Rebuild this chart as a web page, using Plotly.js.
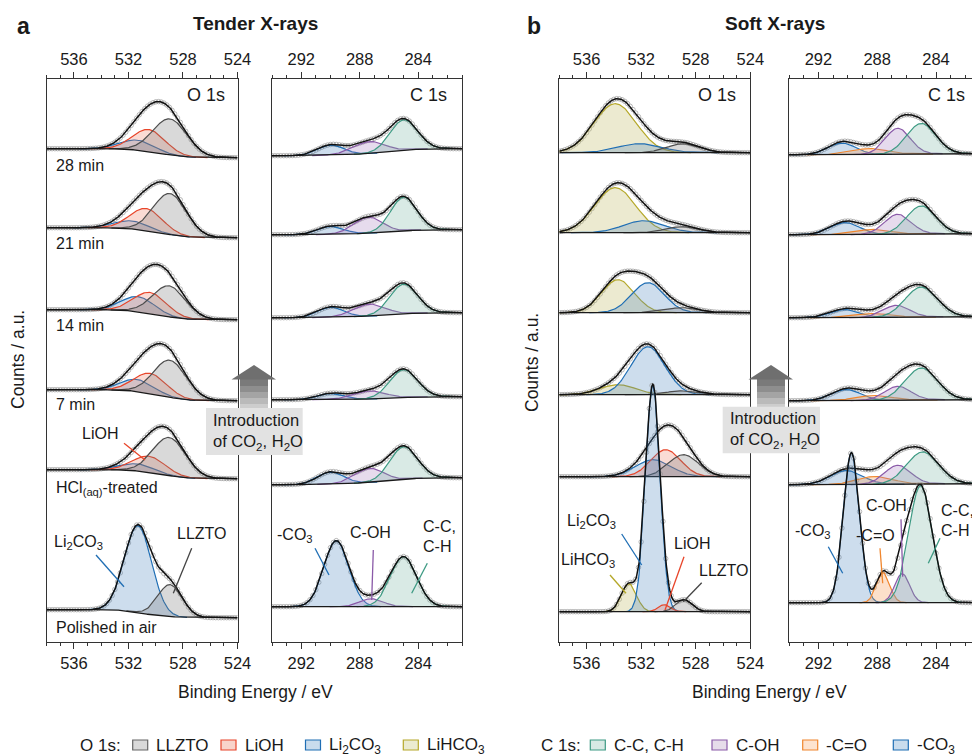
<!DOCTYPE html>
<html><head><meta charset="utf-8">
<script src="https://cdn.plot.ly/plotly-3.0.1.min.js"></script>
<style>html,body{margin:0;padding:0;overflow:hidden;background:#fff}#chart{width:990px;height:756px}</style>
</head><body><div id="chart"></div>
<script>
// ================= DATA =================
const sampleLabels = ['28 min','21 min','14 min','7 min','HCl<sub>(aq)</sub>-treated','Polished in air'];
const o1sRange = [524, 538];
const c1sRange = [281, 294];

// --- Panel a, O 1s (tender X-rays); six spectra, top to bottom ---
const aO_baseHigh = [493, 414, 332, 252, 172, 32];
const aO_baseLow  = [484, 404, 322, 241, 163, 24];
const aO_LLZTO_pos = [528.95, 528.95, 529.0, 528.95, 529.0, 528.95];
const aO_LLZTO_amp = [36, 41, 31, 37, 38, 32];
const aO_LLZTO_wid = [1.25, 1.2, 1.2, 1.2, 1.2, 0.9];
const aO_LiOH_pos  = [530.5, 530.7, 530.4, 530.4, 530.5, 530.4];
const aO_LiOH_amp  = [22, 22, 21, 20, 16, 0];
const aO_LiOH_wid  = [1.2, 1.2, 1.2, 1.2, 1.2, 1.0];
const aO_Li2CO3_pos = [531.35, 531.8, 531.3, 531.4, 531.4, 531.3];
const aO_Li2CO3_amp = [10, 8, 15, 12, 7, 87];
const aO_Li2CO3_wid = [1.2, 1.2, 1.2, 1.2, 1.2, 1.0];

// --- Panel a, C 1s ---
const aC_baseHigh = [486, 407, 324, 242, 157, 35];
const aC_baseLow  = [493, 412, 329, 245, 164, 35];
const aC_CC_pos  = [285.0, 285.0, 285.0, 285.0, 285.0, 285.0];
const aC_CC_amp  = [31, 34, 30, 28, 33, 50];
const aC_CC_wid  = [0.95, 0.9, 0.95, 0.95, 0.95, 0.9];
const aC_COH_pos = [287.3, 287.4, 287.3, 287.3, 287.3, 287.2];
const aC_COH_amp = [12, 16, 12, 8, 14, 8];
const aC_COH_wid = [1.1, 1.0, 1.1, 1.1, 1.0, 0.8];
const aC_CO3_pos = [290.0, 290.0, 290.0, 290.0, 290.0, 289.6];
const aC_CO3_amp = [10, 8, 10, 6, 12, 66];
const aC_CO3_wid = [0.9, 0.9, 0.9, 0.9, 0.9, 0.85];

// --- Panel b, O 1s (soft X-rays) ---
const bO_base = [489, 409, 329, 247, 165, 30];
const bO_LLZTO_pos = [528.9, 529.0, 529.0, 528.9, 528.9, 528.85];
const bO_LLZTO_amp = [9, 6, 5, 4, 22, 12];
const bO_LLZTO_wid = [1.2, 1.2, 1.2, 1.2, 1.1, 0.6];
const bO_LiOH_pos  = [530.2, 530.2, 530.2, 530.2, 530.2, 530.3];
const bO_LiOH_amp  = [0, 0, 0, 0, 27, 7];
const bO_LiOH_wid  = [1.1, 1.1, 1.1, 1.1, 1.1, 0.45];
const bO_Li2CO3_pos = [532.1, 531.8, 531.5, 531.5, 531.1, 531.15];
const bO_Li2CO3_amp = [9, 12, 30, 48, 17, 226];
const bO_Li2CO3_wid = [1.6, 1.5, 1.2, 1.25, 1.3, 0.53];
const bO_LiHCO3_pos = [533.9, 533.9, 533.7, 533.7, 533.7, 532.9];
const bO_LiHCO3_amp = [49, 45, 33, 10, 0, 28];
const bO_LiHCO3_wid = [1.55, 1.5, 1.2, 1.3, 1.3, 0.55];

// --- Panel b, C 1s ---
const bC_baseHigh = [487, 407, 324, 241, 157, 39];
const bC_baseLow  = [488, 408, 325, 242, 158, 39];
const bC_CC_pos  = [285.0, 285.0, 285.0, 285.0, 284.9, 285.05];
const bC_CC_amp  = [30.5, 28, 30, 32, 32, 117];
const bC_CC_wid  = [1.0, 1.0, 1.1, 1.1, 1.1, 0.8];
const bC_COH_pos = [286.6, 286.6, 286.7, 286.6, 286.6, 286.3];
const bC_COH_amp = [26, 20, 12, 14, 19, 29];
const bC_COH_wid = [0.85, 0.9, 0.9, 0.9, 0.9, 0.5];
const bC_CO_pos  = [288.5, 288.3, 288.3, 288.2, 288.15, 287.6];
const bC_CO_amp  = [6, 5, 4, 5, 8, 30];
const bC_CO_wid  = [1.2, 1.2, 1.2, 1.2, 1.2, 0.45];
const bC_CO3_pos = [290.4, 290.2, 290.2, 290.1, 290.1, 289.75];
const bC_CO3_amp = [11.5, 12, 8, 11, 14, 150];
const bC_CO3_wid = [0.95, 1.0, 1.0, 1.0, 1.1, 0.55];

// ================= STYLE =================
const FONT = 'Liberation Sans, Arial, sans-serif';
const COL = {
  LLZTO:  {line:'#4d4d4d', fill:'rgba(120,120,120,0.28)', leg:'#d9d9d9'},
  LiOH:   {line:'#e8452a', fill:'rgba(236,110,85,0.25)', leg:'#f8d3ca'},
  Li2CO3: {line:'#1f6eb4', fill:'rgba(70,130,190,0.27)', leg:'#c9dced'},
  LiHCO3: {line:'#b5a82a', fill:'rgba(195,190,110,0.32)', leg:'#ebebd0'},
  CC:     {line:'#3d9a83', fill:'rgba(120,180,160,0.28)', leg:'#d7e9e4'},
  COH:    {line:'#8a5aa8', fill:'rgba(165,125,190,0.28)', leg:'#e6dcea'},
  CO:     {line:'#f0862e', fill:'rgba(245,160,90,0.32)', leg:'#fde3cf'},
  CO3:    {line:'#1f6eb4', fill:'rgba(70,130,190,0.27)', leg:'#c9dced'}
};

const W = 990, H = 756;
const px = x => x / W, py = y => 1 - y / H;

const panels = [
  {xa:'x', ya:'y', range:o1sRange, bHigh:aO_baseHigh, bLow:aO_baseLow, comps:[
    {c:COL.Li2CO3, pos:aO_Li2CO3_pos, amp:aO_Li2CO3_amp, wid:aO_Li2CO3_wid},
    {c:COL.LiOH, pos:aO_LiOH_pos, amp:aO_LiOH_amp, wid:aO_LiOH_wid},
    {c:COL.LLZTO, pos:aO_LLZTO_pos, amp:aO_LLZTO_amp, wid:aO_LLZTO_wid}]},
  {xa:'x2', ya:'y2', range:c1sRange, bHigh:aC_baseHigh, bLow:aC_baseLow, comps:[
    {c:COL.CO3, pos:aC_CO3_pos, amp:aC_CO3_amp, wid:aC_CO3_wid},
    {c:COL.COH, pos:aC_COH_pos, amp:aC_COH_amp, wid:aC_COH_wid},
    {c:COL.CC, pos:aC_CC_pos, amp:aC_CC_amp, wid:aC_CC_wid}]},
  {xa:'x3', ya:'y3', range:o1sRange, bHigh:bO_base, bLow:bO_base, comps:[
    {c:COL.LiHCO3, pos:bO_LiHCO3_pos, amp:bO_LiHCO3_amp, wid:bO_LiHCO3_wid},
    {c:COL.Li2CO3, pos:bO_Li2CO3_pos, amp:bO_Li2CO3_amp, wid:bO_Li2CO3_wid},
    {c:COL.LiOH, pos:bO_LiOH_pos, amp:bO_LiOH_amp, wid:bO_LiOH_wid},
    {c:COL.LLZTO, pos:bO_LLZTO_pos, amp:bO_LLZTO_amp, wid:bO_LLZTO_wid}]},
  {xa:'x4', ya:'y4', range:c1sRange, bHigh:bC_baseHigh, bLow:bC_baseLow, comps:[
    {c:COL.CO3, pos:bC_CO3_pos, amp:bC_CO3_amp, wid:bC_CO3_wid},
    {c:COL.CO, pos:bC_CO_pos, amp:bC_CO_amp, wid:bC_CO_wid},
    {c:COL.COH, pos:bC_COH_pos, amp:bC_COH_amp, wid:bC_COH_wid},
    {c:COL.CC, pos:bC_CC_pos, amp:bC_CC_amp, wid:bC_CC_wid}]}
];

const traces = [];
panels.forEach(p => {
  for (let s = 0; s < 6; s++) {
    const step = 0.05, E = [];
    for (let e = p.range[0]; e <= p.range[1] + 1e-9; e += step) E.push(+e.toFixed(3));
    const act = p.comps.filter(c => c.amp[s] > 0);
    const gs = act.map(c => E.map(e => c.amp[s] * Math.exp(-0.5 * Math.pow((e - c.pos[s]) / c.wid[s], 2))));
    const tot = E.map((e, i) => gs.reduce((a, g) => a + g[i], 0));
    let acc = 0; const cum = tot.map(t => (acc += t));
    const B = E.map((e, i) => p.bLow[s] + (p.bHigh[s] - p.bLow[s]) * cum[i] / acc);
    const env = E.map((e, i) => B[i] + tot[i]);
    // measured points (open grey circles)
    const ptsX = [], ptsY = [];
    for (let i = 0; i < E.length; i += 4) { ptsX.push(E[i]); ptsY.push(env[i]); }
    traces.push({type:'scatter', mode:'markers', x:ptsX, y:ptsY, xaxis:p.xa, yaxis:p.ya, hoverinfo:'skip',
      marker:{symbol:'circle-open', size:4.5, color:'rgba(140,140,140,0.75)', line:{width:0.8}}});
    act.forEach((c, k) => {
      const lo = c.pos[s] - 3.6 * c.wid[s], hi = c.pos[s] + 3.6 * c.wid[s];
      const xs = [], bs = [], ys = [];
      E.forEach((e, i) => { if (e >= lo && e <= hi) { xs.push(e); bs.push(B[i]); ys.push(B[i] + gs[k][i]); } });
      traces.push({type:'scatter', mode:'lines', x:xs, y:bs, xaxis:p.xa, yaxis:p.ya, hoverinfo:'skip',
        line:{width:0, color:'rgba(0,0,0,0)'}});
      traces.push({type:'scatter', mode:'lines', x:xs, y:ys, xaxis:p.xa, yaxis:p.ya, hoverinfo:'skip',
        fill:'tonexty', fillcolor:c.c.fill, line:{width:1.2, color:c.c.line}});
    });
    traces.push({type:'scatter', mode:'lines', x:E, y:B, xaxis:p.xa, yaxis:p.ya, hoverinfo:'skip',
      line:{width:1.3, color:'#1a1a1a'}});
    traces.push({type:'scatter', mode:'lines', x:E, y:env, xaxis:p.xa, yaxis:p.ya, hoverinfo:'skip',
      line:{width:1.5, color:'#111'}});
  }
});
// dummy traces to anchor the top axes
['x5','x6','x7','x8'].forEach((xa, i) => traces.push({type:'scatter', x:[null], y:[null], xaxis:xa, yaxis:'y' + (i === 0 ? '' : i + 1), hoverinfo:'skip'}));

const yDom = [py(641.7), py(79)];
const xDoms = [[46.7, 237.5], [272, 462], [559.3, 750.3], [789, 980.1]];
const layout = {width:W, height:H, margin:{l:0, r:0, t:0, b:0}, showlegend:false,
  paper_bgcolor:'#fff', plot_bgcolor:'rgba(0,0,0,0)', font:{family:FONT, color:'#1a1a1a'}};
xDoms.forEach((d, i) => {
  const n = i + 1, isO = (i % 2 === 0);
  const rng = isO ? [o1sRange[1], o1sRange[0]] : [c1sRange[1], c1sRange[0]];
  const common = {domain:[px(d[0]), px(d[1])], range:rng, tickmode:'linear', tick0:isO ? 524 : 284, dtick:4,
    ticks:'outside', ticklen:6, tickwidth:1, tickcolor:'#333',
    minor:{dtick:1, tick0:isO ? 524 : 284, ticks:'outside', ticklen:3, tickcolor:'#333', showgrid:false},
    showgrid:false, zeroline:false, tickfont:{size:16.5, family:FONT, color:'#1a1a1a'}};
  layout['xaxis' + (n === 1 ? '' : n)] = Object.assign({}, common, {anchor:'y' + (n === 1 ? '' : n),
    showline:true, linecolor:'#333', linewidth:1, mirror:true});
  layout['xaxis' + (n + 4)] = Object.assign({}, common, {anchor:'y' + (n === 1 ? '' : n),
    overlaying:'x' + (n === 1 ? '' : n), side:'top', showline:false});
  layout['yaxis' + (n === 1 ? '' : n)] = {domain:yDom, range:[0, 562.7], anchor:'x' + (n === 1 ? '' : n),
    showline:true, linecolor:'#333', linewidth:1, mirror:true, showticklabels:false, ticks:'',
    showgrid:false, zeroline:false};
});

const ann = [], shp = [];
function txt(t, x, y, size, opts) {
  ann.push(Object.assign({text:t, x:px(x), y:py(y), xref:'paper', yref:'paper', showarrow:false,
    xanchor:'center', yanchor:'middle', font:{size:size, family:FONT, color:'#1a1a1a'}}, opts || {}));
}
function seg(x0, y0, x1, y1, color) {
  shp.push({type:'line', xref:'paper', yref:'paper', x0:px(x0), y0:py(y0), x1:px(x1), y1:py(y1),
    line:{color:color, width:1.3}});
}
// titles
txt('<b>a</b>', 23, 26, 23);
txt('<b>Tender X-rays</b>', 255, 23, 19);
txt('<b>b</b>', 534, 26, 23);
txt('<b>Soft X-rays</b>', 775, 23, 19);
// panel labels
txt('O 1s', 205.7, 95, 18); txt('C 1s', 428.3, 95, 18);
txt('O 1s', 716.7, 95, 18); txt('C 1s', 946.7, 95, 18);
// sample labels
const sampleY = [166, 243.3, 326, 404, 488.3, 627.3];
sampleLabels.forEach((l, i) => txt(l, 53.5, sampleY[i], 16, {xanchor:'left'}));
// axis titles
txt('Binding Energy / eV', 255, 692, 17.5);
txt('Binding Energy / eV', 769.3, 692, 17.5);
txt('Counts / a.u.', 18, 360, 17.5, {textangle:-90});
txt('Counts / a.u.', 532, 363, 17.5, {textangle:-90});
// component labels, panel a
txt('LiOH', 100, 433.3, 16); seg(124, 443.3, 145, 460, COL.LiOH.line);
txt('Li<sub>2</sub>CO<sub>3</sub>', 78.3, 542.3, 16); seg(96, 555, 124, 586.7, COL.Li2CO3.line);
txt('LLZTO', 201.7, 533.3, 16); seg(191.7, 548.3, 173.3, 593.3, '#444');
txt('-CO<sub>3</sub>', 295, 535, 16); seg(315, 548.3, 329, 575, COL.CO3.line);
txt('C-OH', 370.7, 532.3, 16); seg(373.3, 550, 371.7, 600, COL.COH.line);
txt('C-C,', 421, 526.7, 16, {xanchor:'left'}); txt('C-H', 421, 546.7, 16, {xanchor:'left'});
seg(427.3, 563.3, 411.7, 593.3, COL.CC.line);
// component labels, panel b
txt('Li<sub>2</sub>CO<sub>3</sub>', 591.7, 521.7, 16); seg(621.7, 534, 641.7, 565, COL.Li2CO3.line);
txt('LiHCO<sub>3</sub>', 588.3, 560, 16); seg(610, 575, 626, 593.3, COL.LiHCO3.line);
txt('LiOH', 691.7, 543.3, 16); seg(684, 556.7, 665, 610, COL.LiOH.line);
txt('LLZTO', 724, 570, 16); seg(701.7, 582.7, 683.3, 601.7, '#444');
txt('-CO<sub>3</sub>', 793.3, 531.7, 16, {xanchor:'left'}); seg(828.3, 546.7, 842.7, 573.3, COL.CO3.line);
txt('-C=O', 875, 535, 16); seg(880, 548.3, 882.7, 583.3, COL.CO.line);
txt('C-OH', 886, 505, 16); seg(901, 519.3, 902.7, 576.7, COL.COH.line);
txt('C-C,', 938.5, 510, 16, {xanchor:'left'}); txt('C-H', 938.5, 530, 16, {xanchor:'left'});
seg(940, 538.3, 928.3, 563.3, COL.CC.line);

// arrows + boxes
function arrow(cx) {
  const head = `M ${px(cx-22.5)} ${py(379.5)} L ${px(cx)} ${py(365)} L ${px(cx+22)} ${py(379.5)} Z`;
  const body = [['#7a7a7a', 379, 386], ['#8e8e8e', 386, 392], ['#a4a4a4', 392, 398], ['#bababa', 398, 404], ['#cdcdcd', 404, 410]];
  body.forEach(b => shp.push({type:'rect', xref:'paper', yref:'paper', layer:'above', x0:px(cx-14), x1:px(cx+14),
    y0:py(b[1]), y1:py(b[2]), fillcolor:b[0], line:{width:0}}));
  shp.push({type:'path', xref:'paper', yref:'paper', layer:'above', path:head, fillcolor:'#6f6f6f', line:{width:0}});
}
arrow(254); arrow(771);
function box(x0, x1, y0, y1) {
  shp.push({type:'rect', xref:'paper', yref:'paper', layer:'above', x0:px(x0), x1:px(x1), y0:py(y0), y1:py(y1),
    fillcolor:'#e2e2e2', line:{width:0}});
  txt('Introduction<br>of CO<sub>2</sub>, H<sub>2</sub>O', x0 + 5, (y0 + y1) / 2, 16.5, {xanchor:'left', align:'left'});
}
box(206, 302.7, 408, 455);
box(722.7, 820, 406.7, 453.3);

// legend
const legY = 745.5;
function legItem(x0, label, c) {
  shp.push({type:'rect', xref:'paper', yref:'paper', x0:px(x0), x1:px(x0 + 15), y0:py(legY - 5.5), y1:py(legY + 4.5),
    fillcolor:c.leg, line:{color:c.line, width:1.2}});
  txt(label, x0 + 21.5, legY, 17, {xanchor:'left'});
}
txt('O 1s:', 78.3, legY, 17, {xanchor:'left'});
legItem(132.7, 'LLZTO', {leg:'#d9d9d9', line:'#666'});
legItem(221, 'LiOH', COL.LiOH);
legItem(305.5, 'Li<sub>2</sub>CO<sub>3</sub>', COL.Li2CO3);
legItem(403.3, 'LiHCO<sub>3</sub>', COL.LiHCO3);
txt('C 1s:', 539.3, legY, 17, {xanchor:'left'});
legItem(590.3, 'C-C, C-H', COL.CC);
legItem(712, 'C-OH', COL.COH);
legItem(802.7, '-C=O', COL.CO);
legItem(893.3, '-CO<sub>3</sub>', COL.CO3);

layout.annotations = ann;
layout.shapes = shp;
Plotly.newPlot('chart', traces, layout, {displayModeBar:false, staticPlot:true});
</script></body></html>
